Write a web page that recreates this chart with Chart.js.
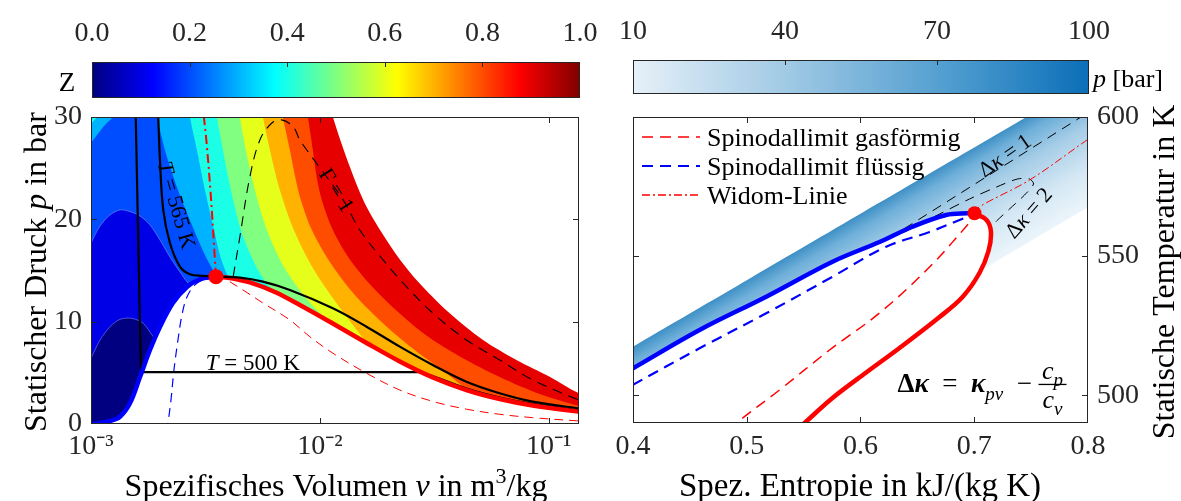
<!DOCTYPE html>
<html lang="de">
<head>
<meta charset="utf-8">
<title>Kompressibilität und T-s-Diagramm</title>
<script src="https://cdn.jsdelivr.net/npm/chart.js@4.4.1/dist/chart.umd.min.js"></script>
<style>
  html, body { margin: 0; padding: 0; background: #fff; }
  #fig { position: relative; width: 1181px; height: 501px; overflow: hidden; }
  #fig canvas { position: absolute; top: 0; }
</style>
</head>
<body>
<div id="fig">
  <canvas id="pv" width="600" height="501" style="left:0"></canvas>
  <canvas id="ts" width="581" height="501" style="left:600px"></canvas>
  <canvas id="cbZ" width="600" height="110" style="left:0"></canvas>
  <canvas id="cbP" width="581" height="110" style="left:600px"></canvas>
</div>
<script>
// ── Left panel: p-v diagram, v in m³/kg, p in bar ─────────────────────────
const vTicks = [1e-3, 1e-2, 1e-1];
const pTicks = [0, 10, 20, 30];
const zTicks = [0, 0.2, 0.4, 0.6, 0.8, 1.0];
const zColors = ['#000080', '#0000e6', '#004dff', '#00b3ff', '#1affe6',
                 '#80ff80', '#e6ff1a', '#ffb300', '#ff4d00', '#e60000'];

// iso-Z contour lines (gas side, from the top edge down to the dome / right edge)
const z10 = [[1.09e-2,32],[1.14e-2,30],[1.352e-2,25.15],[1.6e-2,21.24],[2.09e-2,17.01],[2.645e-2,14.08],[3.695e-2,10.82],[5.166e-2,8.21],[7.228e-2,6.26],[0.101,4.62],[0.1357,3.0],[0.17,2.3]];
const z09 = [[8.5e-3,32],[8.863e-3,30],[9.32e-3,26.78],[9.703e-3,24.05],[1.02e-2,21.9],[1.14e-2,18.96],[1.339e-2,16.23],[1.637e-2,13.78],[2.147e-2,11.14],[2.903e-2,8.7],[4.128e-2,6.55],[6.11e-2,4.59],[9.135e-2,2.93],[0.1357,1.76],[0.17,1.3]];
const z08 = [[6.65e-3,32],[6.893e-3,30],[7.396e-3,26.78],[7.855e-3,23.85],[8.26e-3,21.9],[9.228e-3,18.96],[1.106e-2,15.84],[1.422e-2,12.61],[1.922e-2,9.68],[2.598e-2,7.23],[3.515e-2,5.08],[4.519e-2,3.13],[5.0e-2,2.3]];
const z07 = [[5.45e-3,32],[5.637e-3,30],[6.049e-3,26.78],[6.688e-3,22.87],[7.698e-3,18.96],[9.32e-3,15.25],[1.198e-2,11.63],[1.654e-2,7.55],[1.85e-2,6.2]];
const z06 = [[4.36e-3,32],[4.474e-3,30],[4.752e-3,26.78],[5.202e-3,22.87],[5.87e-3,18.96],[6.893e-3,15.54],[8.343e-3,12.81],[1.051e-2,10.26],[1.2e-2,8.8]];
const z05 = [[3.45e-3,32],[3.55e-3,30],[3.771e-3,26.78],[4.086e-3,22.87],[4.519e-3,18.96],[5.098e-3,16.03],[5.87e-3,13.69],[6.688e-3,12.71],[7.4e-3,11.5]];
const z04 = [[2.62e-3,32],[2.706e-3,30],[2.903e-3,26.78],[3.147e-3,22.87],[3.41e-3,19.45],[3.659e-3,16.52],[3.886e-3,14.86],[4.005e-3,14.27],[4.1e-3,13.0]];
const z03 = [[1.85e-3,32],[1.942e-3,30],[2.104e-3,26.78],[2.399e-3,22.87],[2.761e-3,19.45],[3.147e-3,16.52],[3.444e-3,14.86],[3.515e-3,14.4],[3.6e-3,13.0]];
// iso-Z lines on the liquid side (upper-left corner and the two humps)
const z04Corner = [[9.5e-4,28.6],[1.0e-3,29.33],[1.062e-3,30],[1.1e-3,31]];
const z03Corner = [[9.5e-4,26.7],[1.0e-3,27.47],[1.062e-3,28.25],[1.151e-3,29.23],[1.248e-3,30],[1.3e-3,30.6]];
const z02Hump = [[9.5e-4,16.8],[1.0e-3,17.69],[1.095e-3,19.35],[1.211e-3,20.43],[1.339e-3,20.92],[1.48e-3,20.75],[1.637e-3,20.33],[1.81e-3,19.45],[2.001e-3,17.99],[2.213e-3,16.32],[2.447e-3,14.86],[2.652e-3,13.78],[2.761e-3,13.49],[2.85e-3,12.5]];
const z01Hump = [[9.5e-4,5.5],[1.0e-3,6.42],[1.095e-3,8.21],[1.211e-3,9.51],[1.339e-3,10.23],[1.505e-3,10.33],[1.692e-3,9.84],[1.871e-3,8.53],[2.001e-3,7.72],[2.1e-3,6.5]];

// saturation dome, isotherms, spinodals, Widom line
const satLiquidPv = [[9.0e-4,0.0],[1.0e-3,0.0],[1.052e-3,0.02],[1.21e-3,0.29],[1.339e-3,0.71],[1.48e-3,2.02],[1.637e-3,4.59],[1.81e-3,7.23],[2.001e-3,9.48],[2.28e-3,11.83],[2.626e-3,13.39],[2.992e-3,14.14],[3.515e-3,14.4]];
const satVaporPv = [[3.515e-3,14.4],[4.046e-3,14.27],[4.947e-3,13.83],[6.363e-3,12.9],[8.178e-3,11.63],[1.14e-2,9.82],[1.6e-2,7.92],[2.236e-2,6.11],[3.114e-2,4.55],[4.372e-2,3.32],[6.11e-2,2.44],[8.51e-2,1.81],[0.1357,1.2],[0.17,0.98]];
const iso565 = [[1.95e-3,31.5],[1.967e-3,30],[2.001e-3,25.81],[2.069e-3,20.92],[2.213e-3,17.69],[2.447e-3,15.38],[2.706e-3,14.63],[3.083e-3,14.47],[3.515e-3,14.4],[4.474e-3,14.3],[5.637e-3,13.91],[7.396e-3,13.1],[1.14e-2,11.31],[1.6e-2,9.51],[2.236e-2,7.56],[3.114e-2,5.77],[4.372e-2,4.13],[6.11e-2,3.0],[8.51e-2,2.18],[0.1357,1.53],[0.17,1.25]];
const iso500 = [[1.565e-3,31],[1.653e-3,5.07],[2.78e-2,5.07],[3.114e-2,4.69],[4.372e-2,3.47],[6.11e-2,2.59],[8.51e-2,1.96],[0.1357,1.32],[0.17,1.1]];
const gamma1 = [[4.182e-3,14.4],[4.474e-3,18.31],[4.947e-3,24.17],[5.47e-3,27.76],[6.155e-3,29.39],[6.803e-3,29.72],[7.645e-3,29.06],[8.178e-3,27.76],[9.674e-3,25.48],[1.264e-2,21.9],[1.495e-2,18.96],[1.89e-2,16.03],[2.391e-2,13.42],[3.124e-2,10.82],[4.372e-2,8.21],[6.11e-2,6.26],[8.52e-2,4.3],[0.1357,2.35],[0.17,1.7]];
const widomPv = [[3.515e-3,14.4],[3.479e-3,16.03],[3.444e-3,17.69],[3.332e-3,22.58],[3.2e-3,27.47],[3.114e-3,30],[3.08e-3,31]];
const spinLiquidPv = [[3.515e-3,14.37],[3.15e-3,14.17],[2.846e-3,13.59],[2.626e-3,12.41],[2.497e-3,10.65],[2.399e-3,8.21],[2.304e-3,5.28],[2.236e-3,2.35],[2.17e-3,0.0],[2.15e-3,-1]];
const spinVaporPv = [[3.515e-3,14.4],[3.771e-3,14.27],[4.611e-3,13.1],[5.637e-3,11.83],[7.396e-3,10.17],[9.044e-3,8.53],[1.142e-2,6.91],[1.6e-2,4.96],[2.236e-2,3.32],[3.124e-2,2.2],[4.372e-2,1.45],[6.11e-2,0.95],[8.52e-2,0.62],[0.1357,0.3],[0.17,0.2]];
const critPv = [3.515e-3, 14.4];

// ── Right panel: T-s diagram, s in kJ/(kg K), T in K ───────────────────────
const sTicks = [0.4, 0.5, 0.6, 0.7, 0.8];
const tTicks = [500, 550, 600];
const pBarTicks = [10, 40, 70, 100];
const isobarTop = [[0.38,512.6],[0.4,517.4],[0.5,541.3],[0.6,565.2],[0.7,589.0],[0.746,600.0],[0.82,617.7]];
const isobarLow = [[0.82,572.3],[0.7996,567.5],[0.7051,544.6]];
const satLiquidTs = [[0.38,505.0],[0.4,509.66],[0.4585,523.43],[0.5171,535.4],[0.5754,547.98],[0.6167,555.06],[0.6457,560.56],[0.6753,564.77],[0.6941,565.38],[0.7002,565.38]];
const satVaporTs = [[0.7002,565.38],[0.7108,562.97],[0.7147,558.66],[0.7125,551.83],[0.7046,543.92],[0.6897,535.29],[0.6695,528.1],[0.6343,516.96],[0.605,508.15],[0.5754,498.99],[0.5508,490],[0.542,486.8]];
const spinLiquidTs = [[0.38,499.3],[0.3996,503.66],[0.4585,516.85],[0.5171,529.43],[0.5754,542.59],[0.6226,553.37],[0.6607,558.66],[0.6871,562.97],[0.7002,565.13]];
const spinVaporTs = [[0.485,487],[0.491,490],[0.5288,501.86],[0.5728,516.24],[0.6167,529.54],[0.6607,546.07],[0.7002,564.0]];
const dKappa1 = [[0.6255,556.5],[0.7896,598.9],[0.815,605.5]];
const dKappa2 = [[0.6387,558.66],[0.6695,565.13],[0.6958,570.52],[0.7196,574.83],[0.738,577.71],[0.7486,577.71],[0.7521,575.91],[0.7442,571.96],[0.731,566.93],[0.7196,562.61],[0.7134,559.73]];
const widomTs = [[0.7002,565.38],[0.7046,567.75],[0.7486,577.35],[0.7969,591.1],[0.815,596]];
const critTs = [0.7002, 565.38];

// ── Helpers ───────────────────────────────────────────────────────────────
const SERIF = '"Liberation Serif", "Times New Roman", serif';
const INK = '#262626';
Chart.defaults.font.family = SERIF;
Chart.defaults.color = INK;

const OUT_L = 9e-4, OUT_R = 0.17, OUT_B = -2, OUT_T = 33;
const pts = a => a.map(([x, y]) => ({x, y}));

// region left of / below a contour, closed far outside the axes
function bandBelow(contour, head) {
  const last = contour[contour.length - 1];
  const start = head || [[OUT_L, OUT_T]];
  return pts([...start, ...contour, [last[0], OUT_B], [OUT_L, OUT_B]]);
}

function band(data, color, extra) {
  return Object.assign({ data, backgroundColor: color, borderWidth: 0, fill: 'shape', pointRadius: 0, tension: 0.3 }, extra);
}

function line(data, color, width, dash, extra) {
  return Object.assign({ data: pts(data), borderColor: color, borderWidth: width, borderDash: dash || [],
    pointRadius: 0, fill: false, tension: 0.35 }, extra);
}

function dot(xy, r) {
  return { data: pts([xy]), showLine: false, pointRadius: r, pointBackgroundColor: '#ff0000', pointBorderWidth: 0 };
}

const sup = n => String(n).replace(/-/g, '⁻').replace(/\d/g, d => '⁰¹²³⁴⁵⁶⁷⁸⁹'[d]);

// text made of runs with their own style: [text, fontStyle, sizeScale, dyEm]
function drawRich(ctx, x, y, segs, size, rot, align) {
  ctx.save();
  ctx.translate(x, y);
  ctx.rotate((rot || 0) * Math.PI / 180);
  ctx.textBaseline = 'alphabetic';
  ctx.fillStyle = '#000';
  const runs = segs.map(([t, st = '', sc = 1, dy = 0]) => {
    ctx.font = `${st} ${Math.round(size * sc)}px ${SERIF}`;
    return { t, font: ctx.font, w: ctx.measureText(t).width, dy };
  });
  const total = runs.reduce((a, r) => a + r.w, 0);
  let cx = align === 'left' ? 0 : -total / 2;
  for (const r of runs) {
    ctx.font = r.font;
    ctx.fillText(r.t, cx, size * 0.33 + r.dy * size);
    cx += r.w;
  }
  ctx.restore();
  return total;
}

// box with inward ticks, like the original axes
function frameTicks(sides, len) {
  return {
    id: 'frameTicks',
    afterDatasetsDraw(chart) {
      const {ctx, chartArea: a} = chart;
      const xs = chart.scales.x, ys = chart.scales.y;
      ctx.save();
      ctx.strokeStyle = INK;
      ctx.lineWidth = 1;
      ctx.strokeRect(Math.round(a.left) + 0.5, Math.round(a.top) + 0.5, Math.round(a.width) - 1, Math.round(a.height) - 1);
      ctx.beginPath();
      for (const t of xs.ticks) {
        const px = Math.round(xs.getPixelForValue(t.value)) + 0.5;
        if (px <= a.left + 1.5 || px >= a.right - 1.5) continue;
        if (sides.includes('b')) { ctx.moveTo(px, a.bottom); ctx.lineTo(px, a.bottom - len); }
        if (sides.includes('t')) { ctx.moveTo(px, a.top); ctx.lineTo(px, a.top + len); }
      }
      if (ys.options.display !== false) for (const t of ys.ticks) {
        const py = Math.round(ys.getPixelForValue(t.value)) + 0.5;
        if (py <= a.top + 1.5 || py >= a.bottom - 1.5) continue;
        if (sides.includes('l')) { ctx.moveTo(a.left, py); ctx.lineTo(a.left + len, py); }
        if (sides.includes('r')) { ctx.moveTo(a.right, py); ctx.lineTo(a.right - len, py); }
      }
      ctx.stroke();
      ctx.restore();
    }
  };
}

// annotations: data-anchored (at) or pixel-anchored (px)
function notes(items, extra) {
  return {
    id: 'notes',
    afterDraw(chart) {
      const ctx = chart.ctx;
      for (const n of items) {
        const x = n.at ? chart.scales.x.getPixelForValue(n.at[0]) : n.px[0];
        const y = n.at ? chart.scales.y.getPixelForValue(n.at[1]) : n.px[1];
        drawRich(ctx, x, y, n.segs, n.size, n.rot, n.align);
      }
      if (extra) extra(chart);
    }
  };
}

// line-sample legend inside the plot, styled from the datasets themselves
function lineLegend(entries) {
  return {
    id: 'lineLegend',
    afterDraw(chart) {
      const {ctx, chartArea: a} = chart;
      entries.forEach(([ds, text], i) => {
        const y = a.top + 20 + i * 29;
        ctx.save();
        ctx.strokeStyle = ds.borderColor;
        ctx.lineWidth = Math.max(ds.borderWidth, 1.5);
        ctx.setLineDash(ds.borderDash);
        ctx.beginPath();
        ctx.moveTo(a.left + 9, y);
        ctx.lineTo(a.left + 67, y);
        ctx.stroke();
        ctx.restore();
        drawRich(ctx, a.left + 74, y, [[text]], 26, 0, 'left');
      });
    }
  };
}

const noGrid = { display: false, drawTicks: false };

// ── Left chart ────────────────────────────────────────────────────────────
const humpEdge = { borderWidth: 0.8, borderColor: 'rgba(150,170,255,0.6)' };
const pvSets = [
  band(bandBelow(z10), zColors[9]),
  band(bandBelow(z09), zColors[8]),
  band(bandBelow(z08), zColors[7]),
  band(bandBelow(z07), zColors[6]),
  band(bandBelow(z06), zColors[5]),
  band(bandBelow(z05), zColors[4]),
  band(bandBelow(z04, z04Corner), zColors[3]),
  band(bandBelow(z03, z03Corner), zColors[2]),
  band(bandBelow(z02Hump, []), zColors[1], humpEdge),
  band(bandBelow(z01Hump, []), zColors[0], humpEdge),
  band(pts([...satLiquidPv, ...satVaporPv.slice(1), [OUT_R, OUT_B], [OUT_L, OUT_B]]), '#ffffff', { tension: 0.25 }),
  line(spinLiquidPv, '#0000ff', 1.2, [9, 6]),
  line(spinVaporPv, '#ff0000', 1.0, [9, 6]),
  line(gamma1, '#000000', 1.1, [10, 7]),
  line(widomPv, '#ff0000', 2.0, [9, 4, 2, 4]),
  line(iso500.slice(0, 3), '#000000', 2.2, [], { tension: 0 }),
  line(iso500.slice(2), '#000000', 2.2),
  line(satLiquidPv, '#0000ff', 4.5),
  line(satVaporPv, '#ff0000', 4.5),
  line(iso565, '#000000', 2.2),
  dot(critPv, 7.5),
];
pvSets.forEach((d, i) => { d.order = -i; });

new Chart(document.getElementById('pv'), {
  type: 'line',
  data: { datasets: pvSets },
  plugins: [
    frameTicks('btlr', 6),
    notes([
      { px: [35, 272], rot: -90, size: 32, segs: [['Statischer Druck '], ['p', 'italic'], [' in bar']] },
      { px: [336, 485], size: 32, segs: [['Spezifisches Volumen '], ['v', 'italic'], [' in m'], ['3', '', 0.7, -0.38], ['/kg']] },
      { at: [2.373e-3, 21.4], rot: 74, size: 22, segs: [['T', 'italic'], [' = 565 K']] },
      { at: [1.186e-2, 22.87], rot: 58, size: 22, segs: [['Γ = 1']] },
      { at: [5.098e-3, 6.06], size: 23, segs: [['T', 'italic'], [' = 500 K']] },
    ])
  ],
  options: {
    responsive: false, animation: false, events: [],
    layout: { padding: { left: 0, top: 117, right: 21, bottom: 0 } },
    elements: { line: { capBezierPoints: false } },
    plugins: { legend: { display: false }, tooltip: { enabled: false } },
    scales: {
      x: {
        type: 'logarithmic', min: 1e-3, max: 0.1357,
        afterBuildTicks: s => { s.ticks = vTicks.map(value => ({ value })); },
        afterFit: s => { s.height = 77; },
        ticks: { callback: v => '10' + sup(Math.round(Math.log10(v))), font: { size: 28 }, padding: 6, maxRotation: 0, autoSkip: false },
        grid: noGrid, border: { display: false }
      },
      y: {
        type: 'linear', min: 0, max: 30,
        afterBuildTicks: s => { s.ticks = pTicks.map(value => ({ value })); },
        afterFit: s => { s.width = 91; },
        ticks: { font: { size: 28 }, padding: 9 },
        grid: noGrid, border: { display: false }
      }
    }
  }
});

// ── Right chart ───────────────────────────────────────────────────────────
const shade = pts([...isobarTop, ...isobarLow, ...satVaporTs.slice(0, 5).reverse(), ...satLiquidTs.slice().reverse()]);

function isobarGradient(c) {
  const ch = c.chart;
  if (!ch.chartArea) return 'transparent';
  const xs = ch.scales.x, ys = ch.scales.y;
  const x0 = xs.getPixelForValue(isobarTop[1][0]), y0 = ys.getPixelForValue(isobarTop[1][1]);
  const x1 = xs.getPixelForValue(isobarTop[5][0]), y1 = ys.getPixelForValue(isobarTop[5][1]);
  const len = Math.hypot(x1 - x0, y1 - y0);
  const nx = -(y1 - y0) / len, ny = (x1 - x0) / len;
  const g = ch.ctx.createLinearGradient(x0, y0, x0 + nx * 110, y0 + ny * 110);
  g.addColorStop(0, '#3f90c6');
  g.addColorStop(0.12, '#6eafd9');
  g.addColorStop(0.35, '#a6cde7');
  g.addColorStop(0.7, '#d5e8f4');
  g.addColorStop(1, '#edf5fb');
  return g;
}

function drawFormula(ch) {
  const ctx = ch.ctx, xs = ch.scales.x, ys = ch.scales.y;
  const x = xs.getPixelForValue(0.6325), y = ys.getPixelForValue(504.4);
  drawRich(ctx, x, y, [['Δ', 'bold'], ['κ', 'bold italic'], ['  =  '], ['κ', 'bold italic'], ['pv', 'italic', 0.72, 0.3], ['  −']], 27, 0, 'left');
  const fx = xs.getPixelForValue(0.7688);
  drawRich(ctx, fx, y - 13, [['c', 'italic'], ['p', 'italic', 0.72, 0.3]], 26, 0);
  drawRich(ctx, fx, y + 16, [['c', 'italic'], ['v', 'italic', 0.72, 0.3]], 26, 0);
  ctx.save();
  ctx.strokeStyle = '#000';
  ctx.lineWidth = 1.3;
  ctx.beginPath();
  ctx.moveTo(fx - 14, y + 1.5);
  ctx.lineTo(fx + 14, y + 1.5);
  ctx.stroke();
  ctx.restore();
}

const spinVaporLine = line(spinVaporTs, '#ff0000', 1.5, [11, 7]);
const spinLiquidLine = line(spinLiquidTs, '#0000ff', 2.2, [11, 7]);
const widomLine = line(widomTs, '#ff0000', 1.0, [8, 3, 2, 3]);
const tsSets = [
  { data: shade, backgroundColor: isobarGradient, borderWidth: 0, fill: 'shape', pointRadius: 0, tension: 0.2 },
  line(dKappa1, '#000000', 1.0, [10, 7], { tension: 0 }),
  line(dKappa2, '#000000', 1.0, [10, 7], { tension: 0.3 }),
  widomLine,
  spinVaporLine,
  spinLiquidLine,
  line(satLiquidTs, '#0000ff', 4.5),
  line(satVaporTs, '#ff0000', 4.5),
  dot(critTs, 7),
];
tsSets.forEach((d, i) => { d.order = -i; });

new Chart(document.getElementById('ts'), {
  type: 'line',
  data: { datasets: tsSets },
  plugins: [
    frameTicks('btlr', 6),
    lineLegend([[spinVaporLine, 'Spinodallimit gasförmig'], [spinLiquidLine, 'Spinodallimit flüssig'], [widomLine, 'Widom-Linie']]),
    notes([
      { px: [260, 485], size: 33, segs: [['Spez. Entropie in kJ/(kg K)']] },
      { px: [563, 272], rot: -90, size: 32, segs: [['Statische Temperatur in K']] },
      { at: [0.7266, 586.3], rot: -35, size: 22, segs: [['Δ'], ['κ', 'italic'], [' = 1']] },
      { at: [0.7475, 565.6], rot: -49, size: 22, segs: [['Δ'], ['κ', 'italic'], [' = 2']] },
    ], drawFormula)
  ],
  options: {
    responsive: false, animation: false, events: [],
    layout: { padding: { left: 33, top: 117, right: 0, bottom: 0 } },
    elements: { line: { capBezierPoints: false } },
    plugins: { legend: { display: false }, tooltip: { enabled: false } },
    scales: {
      x: {
        type: 'linear', min: 0.4, max: 0.8,
        afterBuildTicks: s => { s.ticks = sTicks.map(value => ({ value })); },
        afterFit: s => { s.height = 78; },
        ticks: { callback: v => v.toFixed(1), font: { size: 28 }, padding: 7, maxRotation: 0, autoSkip: false },
        grid: noGrid, border: { display: false }
      },
      y: {
        type: 'linear', position: 'right', min: 490, max: 600,
        afterBuildTicks: s => { s.ticks = tTicks.map(value => ({ value })); },
        afterFit: s => { s.width = 93; },
        ticks: { font: { size: 28 }, padding: 9 },
        grid: noGrid, border: { display: false }
      }
    }
  }
});

// ── Colour bars ───────────────────────────────────────────────────────────
function colorbar(id, min, max, ticks, stops, pad, axisH, fmt, label) {
  return new Chart(document.getElementById(id), {
    type: 'bar',
    data: { labels: [''], datasets: [{
      data: [[min, max]], borderWidth: 0, barPercentage: 1, categoryPercentage: 1,
      backgroundColor: c => {
        const a = c.chart.chartArea;
        if (!a) return 'transparent';
        const g = c.chart.ctx.createLinearGradient(a.left, 0, a.right, 0);
        stops.forEach(([o, col]) => g.addColorStop(o, col));
        return g;
      }
    }] },
    plugins: [frameTicks('t', 5), notes([label])],
    options: {
      responsive: false, animation: false, events: [], indexAxis: 'y',
      layout: { padding: pad },
      plugins: { legend: { display: false }, tooltip: { enabled: false } },
      scales: {
        x: {
          type: 'linear', position: 'top', min, max,
          afterBuildTicks: s => { s.ticks = ticks.map(value => ({ value })); },
          afterFit: s => { s.height = axisH; s.paddingLeft = 0; s.paddingRight = 0; },
          ticks: { callback: fmt, font: { size: 28 }, padding: 12, maxRotation: 0, autoSkip: false },
          grid: noGrid, border: { display: false }
        },
        y: { display: false }
      }
    }
  });
}

colorbar('cbZ', 0, 1, zTicks,
  [[0, '#000080'], [0.125, '#0000ff'], [0.375, '#00ffff'], [0.625, '#ffff00'], [0.875, '#ff0000'], [1, '#800000']],
  { left: 92, right: 20, top: 0, bottom: 12 }, 62, v => v.toFixed(1),
  { px: [67, 82], size: 27, segs: [['Z']] });

colorbar('cbP', 10, 100, pBarTicks,
  [[0, '#e6f0f8'], [0.35, '#9ec8e4'], [0.7, '#4e9ccf'], [1, '#0b6fb8']],
  { left: 33, right: 92, top: 0, bottom: 16 }, 60, v => String(v),
  { px: [493, 78], size: 26, align: 'left', segs: [['p', 'italic'], [' [bar]']] });
</script>
</body>
</html>
